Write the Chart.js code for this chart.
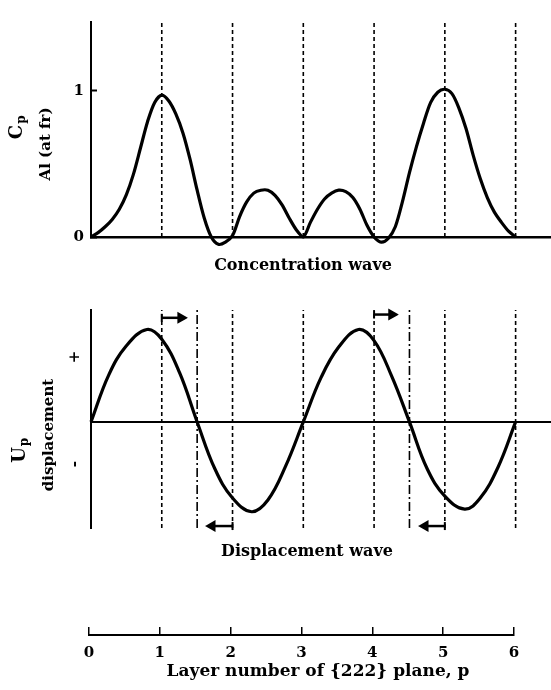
<!DOCTYPE html>
<html>
<head>
<meta charset="utf-8">
<script src="https://cdn.jsdelivr.net/npm/chart.js@4.4.1/dist/chart.umd.min.js"></script>
<style>
  html, body { margin: 0; padding: 0; background: #fff; }
  body { width: 551px; height: 690px; position: relative; overflow: hidden; }
  canvas { position: absolute; left: 0; }
  #conc { top: 0; }
  #disp { top: 285px; }
  #layer { top: 575px; }
</style>
</head>
<body>
<canvas id="conc" width="551" height="285"></canvas>
<canvas id="disp" width="551" height="290"></canvas>
<canvas id="layer" width="551" height="115"></canvas>
<script>
// lattice planes and the two shifted planes (dash-dot)
const layers = [1, 2, 3, 4, 5, 6];
const shiftPlanes = [1.5, 4.5];

// concentration wave, every 0.1 layer
const concP = [0, 0.1, 0.2, 0.3, 0.4, 0.5, 0.6, 0.7, 0.8, 0.9, 1.0, 1.1, 1.2, 1.3, 1.4, 1.5, 1.6, 1.7, 1.8, 1.9,
  2.0, 2.1, 2.2, 2.3, 2.4, 2.5, 2.6, 2.7, 2.8, 2.9, 3.0, 3.1, 3.2, 3.3, 3.4, 3.5, 3.6, 3.7, 3.8, 3.9,
  4.0, 4.1, 4.2, 4.3, 4.4, 4.5, 4.6, 4.7, 4.8, 4.9, 5.0, 5.1, 5.2, 5.3, 5.4, 5.5, 5.6, 5.7, 5.8, 5.9, 6.0];
const concC = [0, 0.03, 0.07, 0.12, 0.19, 0.29, 0.43, 0.61, 0.79, 0.92, 0.97, 0.93, 0.84, 0.71, 0.53, 0.32, 0.13, 0.0, -0.05, -0.035,
  0.01, 0.14, 0.24, 0.30, 0.32, 0.32, 0.285, 0.22, 0.13, 0.05, 0.0, 0.1, 0.19, 0.26, 0.3, 0.32, 0.31, 0.27, 0.19, 0.08,
  0.0, -0.035, -0.01, 0.07, 0.24, 0.44, 0.62, 0.78, 0.92, 0.99, 1.01, 0.98, 0.88, 0.74, 0.56, 0.4, 0.27, 0.17, 0.1, 0.04, 0];
const concTicks = [0, 1];

// displacement wave
const dispP = [0, 0.25, 0.5, 0.79, 1.0, 1.25, 1.5, 1.75, 2.0, 2.27, 2.5, 2.75, 3.0,
  3.25, 3.5, 3.78, 4.0, 4.25, 4.5, 4.75, 5.0, 5.28, 5.5, 5.75, 6.0];
const dispU = [0, 0.72, 1.17, 1.42, 1.27, 0.76, 0, -0.72, -1.17, -1.38, -1.2, -0.68, 0,
  0.68, 1.15, 1.42, 1.25, 0.7, 0, -0.72, -1.14, -1.34, -1.17, -0.7, 0];
const dispTicks = [-0.65, 1];
const dispTickLabels = ['-', '+'];

// shift arrows: start plane, arrow tip, height
const arrowFrom = [1, 4, 2, 5];
const arrowTo = [1.27, 4.25, 1.71, 4.72];
const arrowLevel = [1.6, 1.65, -1.6, -1.6];

const layerTicks = [0, 1, 2, 3, 4, 5, 6];

// axis ranges
const concMax = 1.47;
const dispMin = -1.63, dispMax = 1.72;
const xMax = 6.5;

Chart.defaults.font.family = '"DejaVu Serif", serif';
Chart.defaults.font.weight = 'bold';
Chart.defaults.font.size = 15;
Chart.defaults.color = '#000';

const serif = (size) => 'bold ' + size + 'px "DejaVu Serif", serif';

// free text of the figure (axis names with subscripts, captions)
const figText = {
  id: 'figText',
  afterDraw(chart, args, opts) {
    const ctx = chart.ctx;
    (opts.items || []).forEach(t => {
      ctx.save();
      ctx.fillStyle = '#000';
      ctx.textBaseline = 'middle';
      ctx.textAlign = 'center';
      ctx.translate(t.x, t.y);
      if (t.vertical) ctx.rotate(-Math.PI / 2);
      ctx.font = t.font;
      ctx.fillText(t.text, 0, 0);
      if (t.sub) {
        const w = ctx.measureText(t.text).width;
        ctx.font = t.subFont;
        ctx.textAlign = 'left';
        ctx.fillText(t.sub, w / 2 + 1, t.subDrop);
      }
      ctx.restore();
    });
  }
};

function planeLines(planes, yMin, yMax, dash) {
  return planes.map(p => ({
    data: [{ x: p, y: yMin }, { x: p, y: yMax }],
    borderColor: '#000',
    borderWidth: 1.6,
    borderDash: dash,
    pointRadius: 0,
    tension: 0
  }));
}

function curve(xs, ys, tension) {
  return {
    data: xs.map((x, i) => ({ x: x, y: ys[i] })),
    borderColor: '#000',
    borderWidth: 3.2,
    pointRadius: 0,
    tension: tension,
    clip: false
  };
}

const baseOptions = {
  responsive: false,
  animation: false,
  events: [],
  plugins: { legend: { display: false }, tooltip: { enabled: false } }
};

// top panel: concentration wave
new Chart(document.getElementById('conc'), {
  type: 'line',
  data: {
    datasets: [curve(concP, concC, 0.3)].concat(planeLines(layers, 0, concMax, [4, 3]))
  },
  plugins: [figText],
  options: {
    ...baseOptions,
    layout: { autoPadding: false, padding: { top: 18, bottom: 48, left: 0, right: 0 } },
    plugins: {
      ...baseOptions.plugins,
      figText: {
        items: [
          { text: 'C', sub: 'p', x: 17, y: 132, vertical: true, font: serif(18), subFont: serif(12), subDrop: 5 },
          { text: 'Al (at fr)', x: 46, y: 144, vertical: true, font: serif(15) },
          { text: 'Concentration wave', x: 303, y: 266, font: serif(16) }
        ]
      }
    },
    scales: {
      x: {
        type: 'linear', min: 0, max: xMax,
        afterFit: s => { s.height = 0; },
        ticks: { display: false },
        grid: { display: false, drawTicks: false },
        border: { display: true, color: '#000', width: 2.5 }
      },
      y: {
        min: 0, max: concMax,
        afterFit: s => { s.width = 91; },
        afterBuildTicks: s => { s.ticks = concTicks.map(v => ({ value: v })); },
        grid: { display: true, drawOnChartArea: false, drawTicks: true, tickLength: -6, tickWidth: 2, tickColor: '#000' },
        border: { display: true, color: '#000', width: 2 },
        ticks: { color: '#000', padding: 13 }
      }
    }
  }
});

// middle panel: displacement wave
const arrows = arrowFrom.map((p, i) => ({
  data: [{ x: p, y: arrowLevel[i] }, { x: arrowTo[i], y: arrowLevel[i] }],
  borderColor: '#000',
  borderWidth: 2.5,
  pointStyle: ['line', 'triangle'],
  pointRotation: [90, arrowTo[i] > p ? 90 : -90],
  pointRadius: [4, 5],
  pointBorderWidth: 2,
  pointBorderColor: '#000',
  pointBackgroundColor: '#000',
  tension: 0,
  clip: false
}));

new Chart(document.getElementById('disp'), {
  type: 'line',
  data: {
    datasets: [curve(dispP, dispU, 0.4)]
      .concat(planeLines(layers, dispMin, dispMax, [4, 3]))
      .concat(planeLines(shiftPlanes, dispMin, dispMax, [9, 3, 2, 3]))
      .concat(arrows)
  },
  plugins: [figText],
  options: {
    ...baseOptions,
    layout: { autoPadding: false, padding: { top: 25, bottom: 47, left: 0, right: 0 } },
    plugins: {
      ...baseOptions.plugins,
      figText: {
        items: [
          { text: 'U', sub: 'p', x: 20, y: 170, vertical: true, font: serif(18), subFont: serif(12), subDrop: 5 },
          { text: 'displacement', x: 49, y: 150, vertical: true, font: serif(15) },
          { text: 'Displacement wave', x: 307, y: 267, font: serif(16) }
        ]
      }
    },
    scales: {
      x: {
        type: 'linear', min: 0, max: xMax,
        position: { y: 0 },
        ticks: { display: false },
        grid: { display: false, drawTicks: false },
        border: { display: true, color: '#000', width: 2 }
      },
      y: {
        min: dispMin, max: dispMax,
        afterFit: s => { s.width = 91; },
        afterBuildTicks: s => { s.ticks = dispTicks.map(v => ({ value: v })); },
        grid: { display: false, drawTicks: false },
        border: { display: true, color: '#000', width: 2 },
        ticks: {
          color: '#000', padding: 10, crossAlign: 'center',
          minRotation: 90, maxRotation: 90,
          callback: (v, i) => dispTickLabels[i]
        }
      }
    }
  }
});

// bottom: layer number axis
new Chart(document.getElementById('layer'), {
  type: 'line',
  data: { datasets: [] },
  plugins: [figText],
  options: {
    ...baseOptions,
    layout: { autoPadding: false, padding: { top: 52, left: 89, right: 37, bottom: 0 } },
    plugins: {
      ...baseOptions.plugins,
      figText: {
        items: [
          { text: 'Layer number of {222} plane, p', x: 318, y: 97, font: serif(17) }
        ]
      }
    },
    scales: {
      x: {
        type: 'linear', min: 0, max: 6,
        afterBuildTicks: s => { s.ticks = layerTicks.map(v => ({ value: v })); },
        afterFit: s => { s.height = 55; },
        grid: { display: true, drawOnChartArea: true, drawTicks: false, color: '#000', lineWidth: 1.5 },
        border: { display: true, color: '#000', width: 2 },
        ticks: { color: '#000', padding: 9 }
      },
      y: { display: false, min: 0, max: 1 }
    }
  }
});
</script>
</body>
</html>
